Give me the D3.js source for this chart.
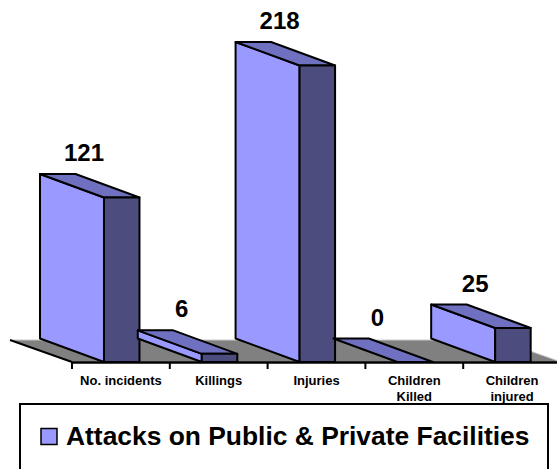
<!DOCTYPE html>
<html>
<head>
<meta charset="utf-8">
<script src="https://cdn.jsdelivr.net/npm/d3@7"></script>
<style>
  body { margin: 0; background: #fff; }
  text { font-family: Arial, "Liberation Sans", sans-serif; font-weight: bold; }
</style>
</head>
<body>
<div id="chart-container"></div>
<script>
const categories = ['No. incidents', 'Killings', 'Injuries', 'Children Killed', 'Children injured']
const values = [121, 6, 218, 0, 25]
const seriesName = 'Attacks on Public & Private Facilities'

const width = 557
const height = 469
const floorY = 362
const depth = {dx: -64, dy: -23.5}
const floorDepth = {dx: -62, dy: -22}
const colors = {side: '#9999ff', top: '#7070c0', front: '#4c4c7e', floor: '#808080'}

const svg = d3.select('#chart-container')
  .append('svg')
  .attr('width', width)
  .attr('height', height)

const x = d3.scaleBand()
  .domain(categories)
  .range([72, 72 + 97.8 * categories.length])

const y = d3.scaleLinear()
  .domain([0, 240])
  .range([floorY, floorY - 240 * 1.36])

const bw = x.bandwidth()
const barOff = bw * 0.327
const barW = bw * 0.363

// floor
const fl = x.range()[0]
const fr = x.range()[1]
svg.append('path')
  .attr('d', `M${fl},${floorY}L${fr},${floorY}L${fr + floorDepth.dx},${floorY + floorDepth.dy}L${fl + floorDepth.dx},${floorY + floorDepth.dy}Z`)
  .attr('fill', colors.floor)
  .attr('stroke', '#c8c8c8')
  .attr('stroke-width', 1)
svg.append('line')
  .attr('x1', fl + floorDepth.dx).attr('y1', floorY + floorDepth.dy)
  .attr('x2', fl).attr('y2', floorY)
  .attr('stroke', '#000').attr('stroke-width', 2)

// bars
const line = d3.line()
const bars = svg.selectAll('g.bar')
  .data(categories)
  .enter()
  .append('g')
  .attr('class', 'bar')

bars.each(function (d, i) {
  const g = d3.select(this)
  const x0 = x(d) + barOff
  const x1 = x0 + barW
  const yt = y(values[i])
  const yb = floorY
  const {dx, dy} = depth
  const style = sel => sel.attr('stroke', '#000').attr('stroke-width', 2).attr('stroke-linejoin', 'round')
  if (values[i] > 0) {
    g.append('path')
      .attr('d', line([[x0 + dx, yt + dy], [x0, yt], [x0, yb], [x0 + dx, yb + dy]]) + 'Z')
      .attr('fill', colors.side).call(style)
  }
  g.append('path')
    .attr('d', line([[x0 + dx, yt + dy], [x1 + dx, yt + dy], [x1, yt], [x0, yt]]) + 'Z')
    .attr('fill', colors.top).call(style)
  if (values[i] > 0) {
    g.append('rect')
      .attr('x', x0).attr('y', yt)
      .attr('width', barW).attr('height', yb - yt)
      .attr('fill', colors.front).call(style)
  }
})

// front axis line and ticks
svg.append('line')
  .attr('x1', fl).attr('x2', width)
  .attr('y1', floorY + 0.5).attr('y2', floorY + 0.5)
  .attr('stroke', '#000').attr('stroke-width', 2.5)

svg.selectAll('line.tick')
  .data(categories.concat(['end']))
  .enter()
  .append('line')
  .attr('class', 'tick')
  .attr('x1', (d, i) => x.range()[0] + i * bw)
  .attr('x2', (d, i) => x.range()[0] + i * bw)
  .attr('y1', floorY)
  .attr('y2', floorY + 7)
  .attr('stroke', '#000')
  .attr('stroke-width', 2)

// category labels, wrapped to the band
const catText = svg.selectAll('text.cat')
  .data(categories)
  .enter()
  .append('text')
  .attr('class', 'cat')
  .attr('x', d => x(d) + bw / 2)
  .attr('y', 385)
  .attr('text-anchor', 'middle')
  .style('font-size', '13px')
  .attr('fill', '#000')

catText.each(function (d) {
  const t = d3.select(this)
  const words = d.split(' ')
  const lines = d.length > 14 ? [words[0], words.slice(1).join(' ')] : [d]
  lines.forEach((w, k) => {
    t.append('tspan')
      .attr('x', x(d) + bw / 2)
      .attr('dy', k === 0 ? 0 : 16)
      .text(w)
  })
})

// data labels
svg.selectAll('text.val')
  .data(values)
  .enter()
  .append('text')
  .attr('class', 'val')
  .attr('x', (d, i) => x(categories[i]) + barOff - 20)
  .attr('y', d => y(d) + depth.dy - 13)
  .attr('text-anchor', 'middle')
  .style('font-size', '24px')
  .text(d => d)

// legend
const legend = svg.append('g')
legend.append('rect')
  .attr('x', 20).attr('y', 404)
  .attr('width', 528).attr('height', 90)
  .attr('fill', '#fff')
  .attr('stroke', '#000')
  .attr('stroke-width', 2)
legend.append('rect')
  .attr('x', 41).attr('y', 428.5)
  .attr('width', 16).attr('height', 16)
  .attr('fill', colors.side)
  .attr('stroke', '#000')
  .attr('stroke-width', 1.5)
legend.append('text')
  .attr('x', 66).attr('y', 445)
  .style('font-size', '26.4px')
  .text(seriesName)
</script>
</body>
</html>
